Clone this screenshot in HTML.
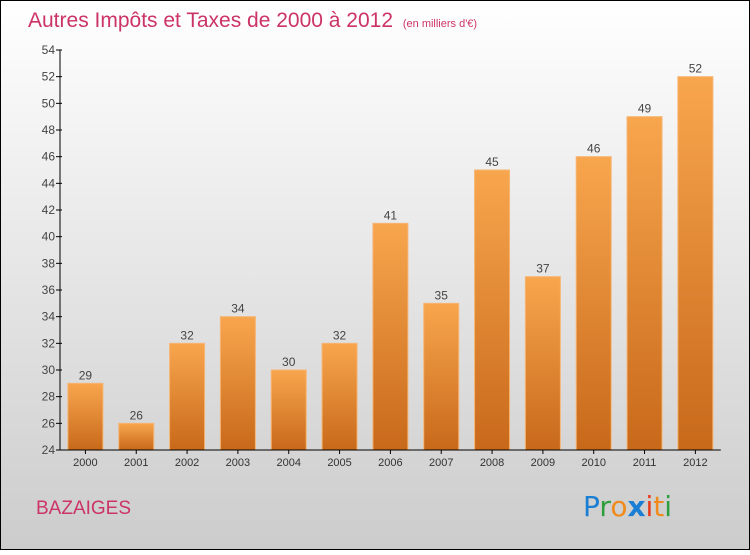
<!DOCTYPE html>
<html><head><meta charset="utf-8"><style>
body{margin:0}
#c{width:750px;height:550px;position:relative;font-family:"Liberation Sans",sans-serif}
</style></head><body>
<div id="c">
<svg width="750" height="550" xmlns="http://www.w3.org/2000/svg">
<defs>
<linearGradient id="bg" x1="0" y1="0" x2="0" y2="1"><stop offset="0" stop-color="#ffffff"/><stop offset="1" stop-color="#cccccc"/></linearGradient>
<linearGradient id="bar" x1="0" y1="0" x2="0" y2="1"><stop offset="0" stop-color="#f8a64e"/><stop offset="1" stop-color="#c8691a"/></linearGradient>
</defs>
<rect x="0.5" y="0.5" width="749" height="549" fill="url(#bg)" stroke="#000"/>
<text x="28" y="27" font-size="21" fill="#cc3366">Autres Impôts et Taxes de 2000 à 2012 <tspan font-size="11" dx="4">(en milliers d'€)</tspan></text>
<text x="36" y="514" font-size="19" fill="#cc3366">BAZAIGES</text>
<g font-size="28" font-family="'DejaVu Sans',sans-serif">
<text x="583" y="516"><tspan fill="#1a7fd4">P</tspan><tspan fill="#2e9e3e">r</tspan><tspan fill="#f08a1a">o</tspan><tspan fill="#1a7fd4" font-weight="bold">x</tspan><tspan fill="#e83a1a">i</tspan><tspan fill="#f08a1a">t</tspan><tspan fill="#2e9e3e">i</tspan></text>
</g>
<g id="plot"></g>
</svg>
</div>
<script>
const categories=["2000","2001","2002","2003","2004","2005","2006","2007","2008","2009","2010","2011","2012"];
const values=[29,26,32,34,30,32,41,35,45,37,46,49,52];
const yTicks=[24,26,28,30,32,34,36,38,40,42,44,46,48,50,52,54];
const ns="http://www.w3.org/2000/svg";
const g=document.getElementById('plot');
const x0=60,band=50.83,yMin=24,yMax=54,yTop=50,yBot=450,bw=35;
const y=v=>yBot-(v-yMin)/(yMax-yMin)*(yBot-yTop);
function mk(t,a){const e=document.createElementNS(ns,t);for(const k in a)e.setAttribute(k,a[k]);g.appendChild(e);return e;}
values.forEach((v,i)=>{
 const cx=x0+band*(i+0.5);
 const r=mk('rect',{x:cx-bw/2,y:y(v),width:bw,height:yBot-y(v),fill:'url(#bar)',stroke:'#f6b574','stroke-width':1});
 
 
 const t=mk('text',{x:cx,y:y(v)-4,'text-anchor':'middle','font-size':12,fill:'#444'});
 t.textContent=v;
 
 
 const c=mk('text',{x:cx,y:466,'text-anchor':'middle','font-size':11,fill:'#333'});
 c.textContent=categories[i];
 
 
 const tk=mk('line',{x1:cx,x2:cx,y1:yBot,y2:yBot+4,stroke:'#000'});
 
 
});
yTicks.forEach(v=>{
 const l=mk('line',{x1:56,x2:62,y1:y(v),y2:y(v),stroke:'#000'});
 
 
 const t=mk('text',{x:55,y:y(v)+4,'text-anchor':'end','font-size':12,fill:'#444'});
 t.textContent=v;
 
 
});
const ya=mk('line',{x1:60,x2:60,y1:yTop,y2:yBot,stroke:'#000'});


const xa=mk('line',{x1:60,x2:x0+band*13,y1:yBot,y2:yBot,stroke:'#000'});


</script>
</body></html>
